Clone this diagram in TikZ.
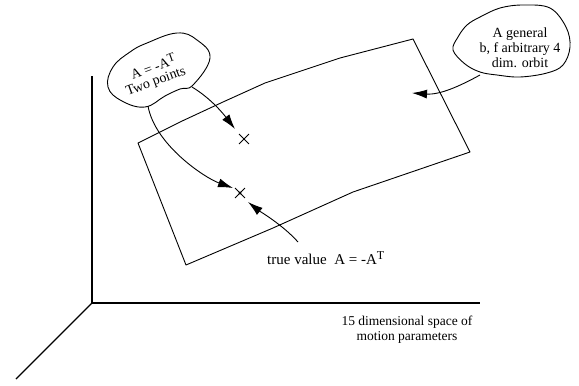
\documentclass[tikz,border=0pt]{standalone}
\usepackage{fontspec}
\setmainfont{Liberation Serif}
\usetikzlibrary{arrows.meta,shapes.misc}
\newcommand{\supT}{\raisebox{0.7ex}{\fontsize{12}{12}\selectfont T}}
\tikzset{
  >={Latex[length=15pt,width=9pt]},
  axis/.style={line width=1.1pt},
  sheet/.style={line width=0.9pt,line join=round},
  pointer/.style={->,line width=0.9pt},
  bubble/.style={line width=0.9pt},
  lbl/.style={align=center,inner sep=0pt,font=\fontsize{14}{15}\selectfont},
  xmark/.style={cross out,draw,line width=0.9pt,minimum size=9pt,inner sep=0pt}
}
\begin{document}
\begin{tikzpicture}[x=1pt,y=-1pt]
  \useasboundingbox (0,0) rectangle (579,386);
  % axes of the parameter space
  \coordinate (O) at (92,303);
  \coordinate (ztop) at (92,76);
  \coordinate (xend) at (480,303);
  \coordinate (yend) at (16,379);
  \draw[axis] (ztop) -- (O) -- (xend);
  \draw[axis] (O) -- (yend);
  \node[lbl,font=\fontsize{13.5}{15}\selectfont] (axlbl) at (407,330) {15 dimensional space of\\motion parameters};
  % the orbit sheet
  \draw[sheet] (138,143) -- (180,122) -- (223,102) -- (265,83) -- (340,58) -- (413,39)
    -- (470,152) -- (353,192) -- (273,228) -- (186,265) -- cycle;
  % points on the sheet
  \node[xmark] (fake) at (244,139) {};
  \node[xmark] (truept) at (240,193) {};
  \fill (truept) circle (1.6pt);
  % left bubble
  \node[lbl,rotate=20] (ptsA) at (153,66) {A = -A\supT};
  \node[lbl,rotate=20] (ptsB) at (156,82) {Two points};
  \draw[bubble] plot[smooth cycle,tension=0.7] coordinates {(147,43) (177,33) (197,40)
    (210,58) (193,85) (180,89) (165,96) (145,107) (122,101) (108,87) (113,67) (130,52)};
  \coordinate (ptsR) at (192,87);
  \coordinate (ptsL) at (148,106);
  \coordinate (tipA) at (235,129);
  \coordinate (tipB) at (233,188);
  \draw[pointer] (ptsR) .. controls (212,99) and (225,116) .. (tipA);
  \draw[pointer] (ptsL) .. controls (155,145) and (205,178) .. (tipB);
  % right bubble
  \node[lbl] (orbit) at (520,48) {A general\\b, f arbitrary 4\\dim. orbit};
  \draw[bubble] plot[smooth cycle,tension=0.6] coordinates {(453,50) (458,37) (467,25)
    (480,17) (500,8) (523,5) (550,8) (566,27) (570,47) (563,65) (547,73) (520,77)
    (497,75) (480,72) (465,64)};
  \coordinate (orbitA) at (480,75);
  \coordinate (tipC) at (412,93);
  \draw[pointer] (orbitA) .. controls (460,86) and (440,95) .. (tipC);
  % true value label
  \node[lbl,anchor=west,font=\fontsize{15}{15}\selectfont] (truelbl) at (267,258) {true value\ \ A = -A\supT};
  \coordinate (trueA) at (298,242);
  \coordinate (tipD) at (248,202);
  \draw[pointer] (trueA) .. controls (283,225) and (258,210) .. (tipD);
\end{tikzpicture}
\end{document}
